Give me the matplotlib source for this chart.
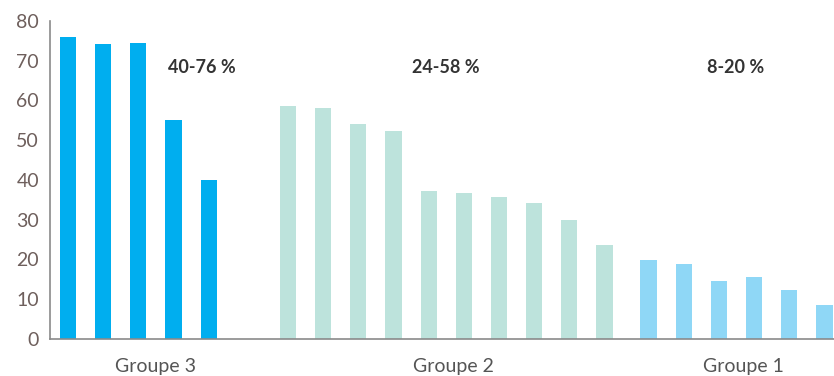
import matplotlib
matplotlib.use('Agg')
import matplotlib.pyplot as plt
import numpy as np

# valeurs
groupe3 = [76, 74.2, 74.5, 55, 40]
groupe2 = [58.6, 58.1, 54.1, 52.3, 37.3, 36.8, 35.6, 34.3, 30.0, 23.7]
groupe1 = [19.8, 18.9, 14.7, 15.6, 12.3, 8.6]
group_names = ['Groupe 3', 'Groupe 2', 'Groupe 1']
ranges = ['40-76 %', '24-58 %', '8-20 %']
yticks = [0, 10, 20, 30, 40, 50, 60, 70, 80]

colors = ['#00aeef', '#bde3dc', '#8fd7f6']

plt.rcParams['font.family'] = ['Lato', 'DejaVu Sans']

fig = plt.figure(figsize=(8.34, 3.76), dpi=100)
ax = fig.add_axes([0.06, 0.0984, 0.94, 0.846])

x3 = np.arange(len(groupe3))
x2 = x3[-1] + 2.25 + np.arange(len(groupe2))
x1 = x2[-1] + 1.25 + np.arange(len(groupe1))
w = 0.46
ax.bar(x3, groupe3, width=w, color=colors[0])
ax.bar(x2, groupe2, width=w, color=colors[1])
ax.bar(x1, groupe1, width=w, color=colors[2])

ax.set_xlim(-0.51, x1[-1] + 0.27)
ax.set_ylim(0, 80)
ax.set_yticks(yticks)
ax.set_yticklabels([str(t) for t in yticks], fontsize=14, color='#6e5f5c')
ax.tick_params(axis='y', length=0, pad=8)
ax.set_xticks([])
for s in ['top', 'right']:
    ax.spines[s].set_visible(False)
for s in ['left', 'bottom']:
    ax.spines[s].set_color('#8a8a8a')
    ax.spines[s].set_linewidth(1.2)

# noms des groupes sous l'axe
name_shift = [0.5, 0.2, 0.2]
for xs, name, dx in zip([x3, x2, x1], group_names, name_shift):
    ax.text(np.mean(xs) + dx, -6.8, name, ha='center', va='center',
            fontsize=14, color='#555555')

# plages en haut
range_shift = [1.8, 0.0, -0.02]
for xs, r, dx in zip([x3, x2, x1], ranges, range_shift):
    ax.text(np.mean(xs) + dx, 68.3, r, ha='center', va='center', fontsize=13,
            fontweight='bold', color='#333333')

fig.savefig('out.png', dpi=100)
